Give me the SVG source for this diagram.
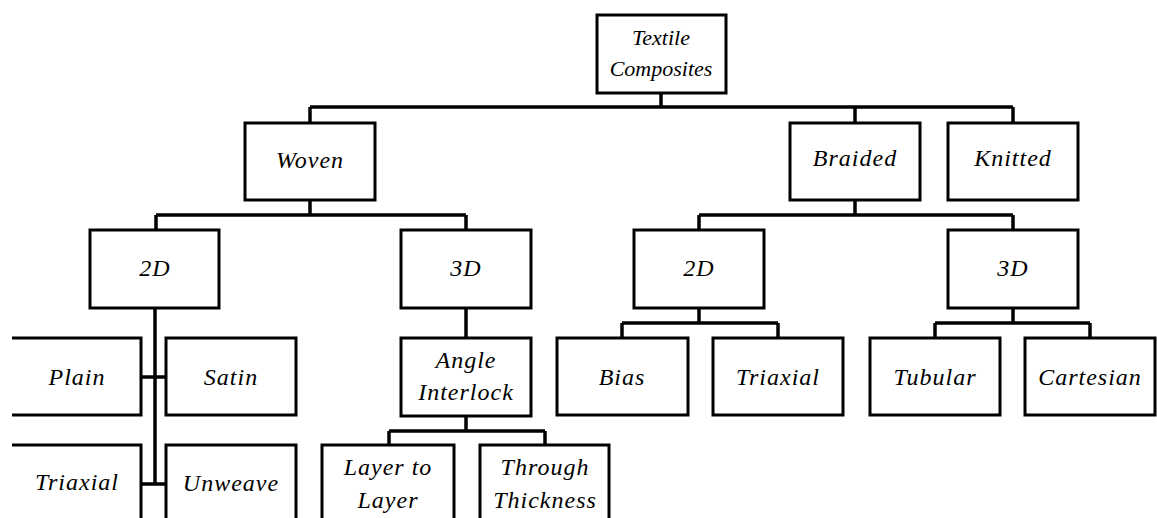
<svg xmlns="http://www.w3.org/2000/svg" width="1157" height="518" viewBox="0 0 1157 518">
<style>
.box{fill:#fff;stroke:#000;stroke-width:3}
.t{font-family:"Liberation Serif","Times New Roman",serif;font-style:italic;font-size:24px;letter-spacing:1px;fill:#000;text-anchor:middle}
.s{font-size:22px;letter-spacing:0}
.c{fill:none;stroke:#000;stroke-width:3.5}
</style>
<rect width="1157" height="518" fill="#fff"/>
<g id="connectors">
<path class="c" d="M661 93V107M310 107H1013M310 107V123M855 107V123M1013 107V123"/>
<path class="c" d="M310 200V215M156 215H466M156 215V230M466 215V230"/>
<path class="c" d="M855 200V215M699 215H1013M699 215V230M1013 215V230"/>
<path class="c" d="M155 308V484M141 377H166M141 484H166"/>
<path class="c" d="M466 308V338M466 416V431M389 431H545M389 431V445M545 431V445"/>
<path class="c" d="M699 308V323M622 323H778M622 323V338M778 323V338"/>
<path class="c" d="M1013 308V323M935 323H1090M935 323V338M1090 323V338"/>
</g>
<g id="textile"><rect class="box" x="597" y="15" width="129" height="78"/><text class="t s" x="661" y="45">Textile</text><text class="t s" x="661" y="76">Composites</text></g>
<g id="woven"><rect class="box" x="245" y="123" width="130" height="77"/><text class="t" x="310" y="168">Woven</text></g>
<g id="braided"><rect class="box" x="790" y="123" width="130" height="77"/><text class="t" x="855" y="166">Braided</text></g>
<g id="knitted"><rect class="box" x="948" y="123" width="130" height="77"/><text class="t" x="1013" y="166">Knitted</text></g>
<g id="woven-2d"><rect class="box" x="90" y="230" width="129" height="78"/><text class="t" x="155" y="276">2D</text></g>
<g id="woven-3d"><rect class="box" x="401" y="230" width="130" height="78"/><text class="t" x="466" y="276">3D</text></g>
<g id="braided-2d"><rect class="box" x="634" y="230" width="130" height="78"/><text class="t" x="699" y="276">2D</text></g>
<g id="braided-3d"><rect class="box" x="948" y="230" width="130" height="78"/><text class="t" x="1013" y="276">3D</text></g>
<g id="plain"><path class="box" d="M12 338H141V415H12"/><text class="t" x="77" y="385">Plain</text></g>
<g id="satin"><rect class="box" x="166" y="338" width="130" height="77"/><text class="t" x="231" y="385">Satin</text></g>
<g id="triaxial-w"><path class="box" d="M12 445H141V530"/><text class="t" x="77" y="490">Triaxial</text></g>
<g id="unweave"><rect class="box" x="166" y="445" width="130" height="90"/><text class="t" x="231" y="491">Unweave</text></g>
<g id="angle-interlock"><rect class="box" x="401" y="338" width="130" height="78"/><text class="t" x="466" y="368">Angle</text><text class="t" x="466" y="400">Interlock</text></g>
<g id="layer-to-layer"><rect class="box" x="322" y="445" width="132" height="90"/><text class="t" x="388" y="475">Layer to</text><text class="t" x="388" y="508">Layer</text></g>
<g id="through-thickness"><rect class="box" x="480" y="445" width="129" height="90"/><text class="t" x="545" y="475">Through</text><text class="t" x="545" y="508">Thickness</text></g>
<g id="bias"><rect class="box" x="557" y="338" width="131" height="77"/><text class="t" x="622" y="385">Bias</text></g>
<g id="triaxial-b"><rect class="box" x="713" y="338" width="130" height="77"/><text class="t" x="778" y="385">Triaxial</text></g>
<g id="tubular"><rect class="box" x="870" y="338" width="130" height="77"/><text class="t" x="935" y="385">Tubular</text></g>
<g id="cartesian"><rect class="box" x="1025" y="338" width="130" height="77"/><text class="t" x="1090" y="385">Cartesian</text></g>
</svg>
